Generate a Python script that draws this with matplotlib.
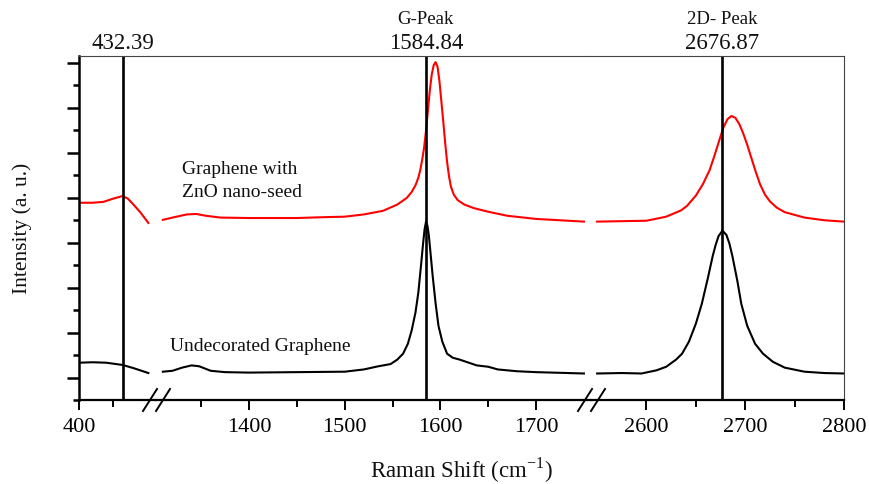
import numpy as np
import matplotlib.pyplot as plt
from matplotlib.ticker import MultipleLocator, FixedLocator
from matplotlib.lines import Line2D

plt.rcParams['font.family'] = 'Liberation Serif'

# Raman spectra (x: Raman shift in cm-1, y: intensity in a.u.)
# Undecorated graphene (black)
bare_x_low = [400, 410, 420, 432, 440, 446, 451]
bare_y_low = [0.33, 0.34, 0.33, 0.28, 0.21, 0.15, 0.10]
bare_x_mid = [1310, 1320, 1330, 1340, 1348, 1360, 1375, 1400, 1450, 1500, 1520, 1535, 1548,
              1555, 1561, 1566, 1570, 1574, 1577, 1580, 1582, 1583.5, 1585, 1586.5, 1588, 1590,
              1592, 1595, 1598, 1602, 1607, 1613, 1620, 1638, 1650, 1660, 1680, 1700, 1750]
bare_y_mid = [0.13, 0.15, 0.22, 0.27, 0.25, 0.15, 0.12, 0.11, 0.12, 0.13, 0.18, 0.25, 0.30,
              0.40, 0.53, 0.75, 1.05, 1.45, 1.90, 2.55, 3.00, 3.30, 3.47, 3.38, 3.15, 2.70,
              2.25, 1.65, 1.15, 0.80, 0.53, 0.44, 0.40, 0.27, 0.24, 0.18, 0.14, 0.12, 0.09]
bare_x_high = [2550, 2575, 2595, 2610, 2620, 2630, 2636, 2643, 2650, 2656, 2662, 2667, 2670,
               2673, 2677, 2681, 2684, 2687, 2692, 2696, 2702, 2710, 2718, 2728, 2740, 2760,
               2780, 2800]
bare_y_high = [0.09, 0.10, 0.09, 0.16, 0.24, 0.40, 0.53, 0.80, 1.20, 1.64, 2.20, 2.70, 2.95,
               3.15, 3.27, 3.17, 2.98, 2.70, 2.15, 1.64, 1.15, 0.75, 0.53, 0.35, 0.22, 0.13,
               0.10, 0.09]

# Graphene with ZnO nano-seed (red)
zno_x_low = [400, 410, 418, 425, 432, 436, 440, 445, 451]
zno_y_low = [3.89, 3.89, 3.91, 3.98, 4.04, 3.98, 3.85, 3.68, 3.44]
zno_x_mid = [1310, 1320, 1335, 1345, 1355, 1370, 1400, 1450, 1480, 1500, 1520, 1540, 1555,
             1565, 1570, 1574, 1577, 1579, 1581, 1583, 1585, 1587, 1589, 1591, 1593, 1595,
             1597, 1599, 1601, 1603, 1605, 1607, 1609, 1611, 1614, 1618, 1625, 1635, 1650,
             1670, 1700, 1750]
zno_y_mid = [3.51, 3.56, 3.63, 3.64, 3.60, 3.56, 3.55, 3.55, 3.57, 3.58, 3.63, 3.71, 3.85,
             4.00, 4.13, 4.28, 4.45, 4.62, 4.85, 5.12, 5.50, 5.95, 6.40, 6.75, 6.95, 7.02,
             6.92, 6.60, 6.15, 5.70, 5.22, 4.80, 4.48, 4.25, 4.07, 3.95, 3.85, 3.77, 3.69,
             3.60, 3.53, 3.47]
zno_x_high = [2550, 2600, 2620, 2635, 2641, 2650, 2657, 2664, 2669, 2674, 2678, 2682, 2686,
              2690, 2694, 2698, 2702, 2706, 2710, 2715, 2720, 2725, 2732, 2740, 2760, 2780, 2800]
zno_y_high = [3.47, 3.49, 3.58, 3.72, 3.82, 4.05, 4.30, 4.62, 4.95, 5.30, 5.57, 5.75, 5.82,
              5.78, 5.64, 5.43, 5.18, 4.90, 4.62, 4.30, 4.07, 3.92, 3.78, 3.68, 3.56, 3.50, 3.47]

# marked peak positions
peak_pos = [432.39, 1584.84, 2676.87]
peak_names = ['', 'G-Peak', '2D- Peak']

W, H = 870, 485
fig = plt.figure(figsize=(W / 100, H / 100), dpi=100)

# axis segments: pixel span and x-range of each
segs = [
    (79, 156, (400, 456.6)),
    (156, 591, (1302.8, 1757.4)),
    (591, 844, (2543.8, 2800)),
]
top_px, bot_px = 57, 401

axes = []
for x0, x1, xl in segs:
    ax = fig.add_axes([x0 / W, 1 - bot_px / H, (x1 - x0) / W, (bot_px - top_px) / H])
    ax.set_xlim(*xl)
    ax.set_ylim(-0.5, 7.156)
    for s in ['left', 'right']:
        ax.spines[s].set_visible(False)
    ax.spines['top'].set_linewidth(0.8)
    ax.spines['top'].set_color('#444444')
    ax.spines['bottom'].set_linewidth(1.6)
    ax.tick_params(axis='x', which='major', direction='out', length=7, width=1.4,
                   labelsize=16, pad=5, top=False)
    ax.tick_params(axis='x', which='minor', direction='out', length=5, width=1.4, top=False)
    ax.tick_params(axis='y', which='both', left=False, labelleft=False)
    axes.append(ax)

ax_l, ax_m, ax_r = axes

ax_l.spines['left'].set_visible(True)
ax_l.spines['left'].set_linewidth(1.8)
ax_l.tick_params(axis='y', which='major', left=True, direction='out', length=9, width=1.8)
ax_l.tick_params(axis='y', which='minor', left=True, direction='out', length=4.5, width=1.8)
ax_l.yaxis.set_major_locator(MultipleLocator(1))
ax_l.yaxis.set_minor_locator(MultipleLocator(0.5))

ax_r.spines['right'].set_visible(True)
ax_r.spines['right'].set_linewidth(0.8)
ax_r.spines['right'].set_color('#444444')

ax_l.xaxis.set_major_locator(FixedLocator([400]))
ax_l.xaxis.set_minor_locator(FixedLocator([425]))
ax_m.xaxis.set_major_locator(FixedLocator([1400, 1500, 1600, 1700]))
ax_m.xaxis.set_minor_locator(FixedLocator([1350, 1450, 1550, 1650]))
ax_r.xaxis.set_major_locator(FixedLocator([2600, 2700, 2800]))
ax_r.xaxis.set_minor_locator(FixedLocator([2650, 2750]))

black_sets = [(bare_x_low, bare_y_low), (bare_x_mid, bare_y_mid), (bare_x_high, bare_y_high)]
red_sets = [(zno_x_low, zno_y_low), (zno_x_mid, zno_y_mid), (zno_x_high, zno_y_high)]
for ax, (bx, by), (rx, ry), pk, name in zip(axes, black_sets, red_sets, peak_pos, peak_names):
    ax.plot(bx, by, color='black', lw=1.5)
    ax.plot(rx, ry, color='#ff0000', lw=1.5)
    ax.axvline(pk, color='black', lw=1.9)
    ax.annotate(f'{pk:.2f}', xy=(pk, 1), xycoords=('data', 'axes fraction'),
                xytext=(0, 6), textcoords='offset points', ha='center', va='baseline',
                fontsize=16.5, color='#111111')
    if name:
        ax.annotate(name, xy=(pk, 1), xycoords=('data', 'axes fraction'),
                    xytext=(0, 24), textcoords='offset points', ha='center', va='baseline',
                    fontsize=13.5, color='#111111')

ax_m.text(1330, 4.4, 'Graphene with\nZnO nano-seed', fontsize=14, ha='left', va='center',
          linespacing=1.45, color='#111111')
ax_m.text(1317.5, 0.71, 'Undecorated Graphene', fontsize=14, ha='left', va='center',
          color='#111111')

# axis break marks "//"
for bx in [156, 591]:
    for dx in [-6, 7]:
        cx = bx + dx
        fig.add_artist(Line2D([(cx - 7) / W, (cx + 7) / W],
                              [1 - 412 / H, 1 - 390 / H],
                              transform=fig.transFigure, color='black', lw=1.4))

fig.text(461 / W, 1 - 470 / H, r'Raman Shift (cm$^{\mathregular{-1}}$)', fontsize=16.5,
         ha='center', va='center', color='#111111')
fig.text(22 / W, 1 - 228 / H, 'Intensity (a. u.)', fontsize=15.5, rotation=90,
         ha='center', va='center', color='#111111')

fig.savefig('out.png', dpi=100)
